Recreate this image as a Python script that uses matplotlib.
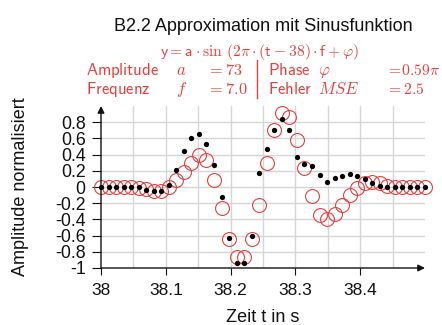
import numpy as np
import matplotlib
matplotlib.use("Agg")
import matplotlib.pyplot as plt
from matplotlib.lines import Line2D
from matplotlib.ticker import FixedLocator

plt.rcParams['font.family'] = ['Liberation Sans', 'DejaVu Sans']
plt.rcParams['mathtext.fontset'] = 'cm'

RED = '#e8403f'

# Abtastzeitpunkte (s)
t = [38.0000, 38.0116, 38.0233, 38.0349, 38.0465, 38.0581, 38.0698, 38.0814,
     38.0930, 38.1047, 38.1163, 38.1279, 38.1395, 38.1512, 38.1628, 38.1744,
     38.1860, 38.1977, 38.2093, 38.2209, 38.2326, 38.2442, 38.2558, 38.2674,
     38.2791, 38.2907, 38.3023, 38.3140, 38.3256, 38.3372, 38.3488, 38.3605,
     38.3721, 38.3837, 38.3953, 38.4070, 38.4186, 38.4302, 38.4419, 38.4535,
     38.4651, 38.4767, 38.4884, 38.5000]

# gemessene, normalisierte Amplitude
measured = [0, 0, 0, 0, 0, -0.005, -0.035, -0.05, -0.05, 0.02,
            0.21, 0.44, 0.60, 0.655, 0.53, 0.275, -0.125, -0.625, -0.94, -0.94,
            -0.60, 0.17, 0.465, 0.70, 0.84, 0.70, 0.37, 0.29, 0.255, 0.146,
            0.06, 0.105, 0.14, 0.155, 0.14, 0.097, 0.047, 0.015,
            0, 0, 0, 0, 0, 0]

# Approximation mit Sinusfunktion
fitted = [0, 0, 0, 0, 0, -0.01, -0.03, -0.05, -0.045, -0.005,
          0.09, 0.19, 0.30, 0.40, 0.33, 0.09, -0.26, -0.64, -0.86, -0.86,
          -0.64, -0.22, 0.30, 0.70, 0.91, 0.87, 0.585, 0.235, -0.115, -0.34,
          -0.395, -0.33, -0.22, -0.095, -0.01, 0.05, 0.065, 0.045, 0.015,
          0, 0, 0, 0, 0]

x_ticks = [38.0, 38.1, 38.2, 38.3, 38.4]
y_ticks = [-1, -0.8, -0.6, -0.4, -0.2, 0, 0.2, 0.4, 0.6, 0.8]

W, H = 442, 325
fig = plt.figure(figsize=(W / 100, H / 100), dpi=100)
ax = fig.add_axes([101 / W, 1 - 268 / H, 324 / W, 162 / H])

ax.set_xlim(38.0, 38.5)
ax.set_ylim(-1.0, 1.0)

# Gitter: vertikal alle 0.05 s, horizontal alle 0.2
for gx in np.arange(38.05, 38.46, 0.05):
    ax.axvline(gx, color='#d6d6d6', lw=1.0, zorder=0)
for gy in y_ticks[1:]:
    ax.axhline(gy, color='#d6d6d6', lw=1.0, zorder=0)

ax.plot(t, fitted, 'o', ms=10, mfc='none', mec=RED, mew=0.8,
        clip_on=False, zorder=3)
ax.plot(t, measured, 'o', ms=3.8, color='black', mew=0,
        clip_on=False, zorder=4)

for s in ax.spines.values():
    s.set_visible(False)

# Achsen mit Pfeilspitzen
arrow = dict(arrowstyle='-|>', lw=1.0, color='#111111',
             mutation_scale=10, shrinkA=0, shrinkB=0)
ax.annotate('', xy=(1.0, 0), xytext=(0, 0), xycoords='axes fraction',
            arrowprops=arrow)
ax.annotate('', xy=(0, 1.0), xytext=(0, 0), xycoords='axes fraction',
            arrowprops=arrow)

ax.xaxis.set_major_locator(FixedLocator(x_ticks))
ax.set_xticklabels(['38', '38.1', '38.2', '38.3', '38.4'])
ax.yaxis.set_major_locator(FixedLocator(y_ticks))
ax.set_yticklabels(['-1', '-0.8', '-0.6', '-0.4', '-0.2', '0',
                    '0.2', '0.4', '0.6', '0.8'])
ax.tick_params(axis='x', direction='out', length=5, width=0.8,
               labelsize=12.5, pad=6, colors='#111111')
ax.tick_params(axis='y', direction='out', length=6.5, width=0.8,
               labelsize=12.8, pad=4.5, colors='#111111')

ax.set_xlabel('Zeit t in s', fontsize=13, color='#111111')
ax.xaxis.set_label_coords(0.5, -0.255)
ax.set_ylabel('Amplitude normalisiert', fontsize=13, color='#111111',
              va='center')
ax.yaxis.set_label_coords(-0.25, 0.5)

# Titel und Parameter der Approximation
def px(x, y):
    return x / W, 1 - y / H

fig.text(*px(263, 31), 'B2.2 Approximation mit Sinusfunktion',
         fontsize=13, ha='center', va='baseline', color='#111111')
fig.text(*px(260, 56),
         r'$\mathsf{y} = \mathsf{a}\cdot\sin\,(2\pi\cdot(\mathsf{t}-38)\cdot\mathsf{f}+\varphi)$',
         fontsize=11.3, ha='center', va='baseline', color=RED)

rows = [
    (75, r'$\mathsf{Amplitude}$', r'$a$', r'$=73$',
     r'$\mathsf{Phase}$', r'$\varphi$', r'$=\!0.59\pi$'),
    (94, r'$\mathsf{Frequenz}$', r'$f$', r'$=7.0$',
     r'$\mathsf{Fehler}$', r'$MSE$', r'$=2.5$'),
]
cols = [86, 176, 207, 268, 318, 386]
sizes = [12, 12, 11.8, 12, 12, 11.3]
for row in rows:
    y = row[0]
    for cx, fs, txt in zip(cols, sizes, row[1:]):
        fig.text(*px(cx, y), txt, fontsize=fs, ha='left', va='baseline',
                 color=RED)

fig.add_artist(Line2D([257 / W, 257 / W], [1 - 60 / H, 1 - 98 / H],
                      color=RED, lw=1.0, transform=fig.transFigure))

fig.savefig('out.png', dpi=100)
